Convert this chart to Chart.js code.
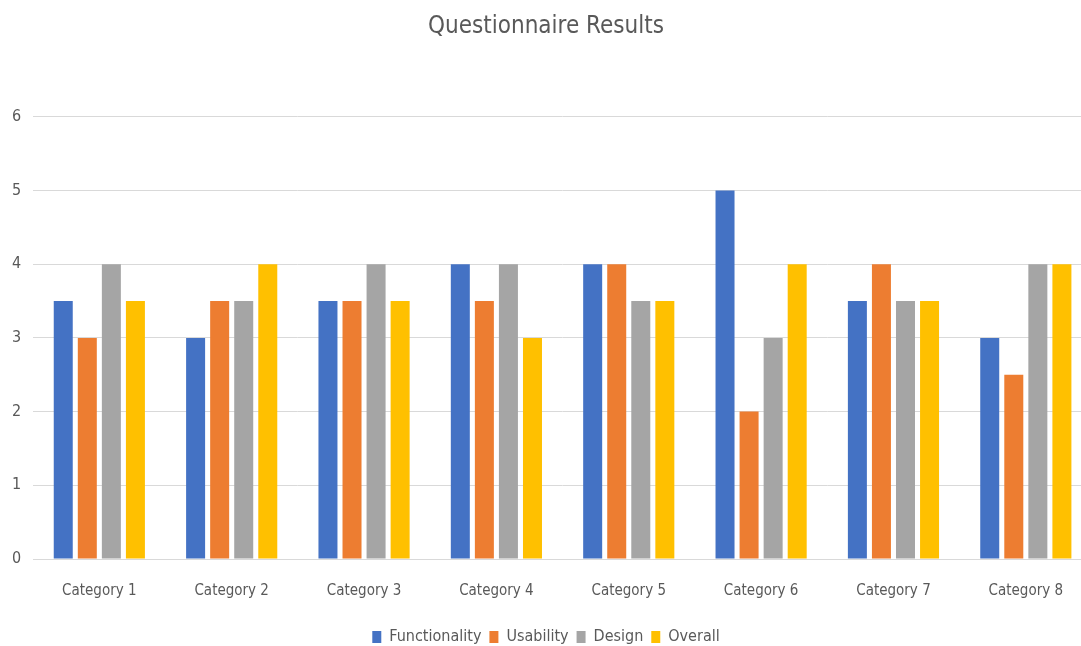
<!DOCTYPE html>
<html><head><meta charset="utf-8">
<script src="https://cdn.jsdelivr.net/npm/chart.js@4"></script>
<style>html,body{margin:0;padding:0;background:#fff;overflow:hidden}#wrap{width:1092px;height:646px}</style>
</head><body><div id="wrap"><canvas id="c"></canvas></div>
<script>
const categories = ["Category 1","Category 2","Category 3","Category 4","Category 5","Category 6","Category 7","Category 8"];
const functionality = [3.5,3,3.5,4,4,5,3.5,3];
const usability = [3,3.5,3.5,3.5,4,2,4,2.5];
const design = [4,3.5,4,4,3.5,3,3.5,4];
const overall = [3.5,4,3.5,3,3.5,4,3.5,4];
const yTicks = [0,1,2,3,4,5,6];
const font = "'Liberation Sans Narrow', 'DejaVu Sans Condensed', sans-serif";
const LEGEND_FIT = -3;
const LEGEND_SHIFT = 6;
const legendGap = {
  id: 'legendGap',
  beforeInit(chart) {
    const lg = chart.legend;
    const fit = lg.fit;
    lg.fit = function() { fit.call(this); this.height += LEGEND_FIT; };
    const draw = lg.draw;
    lg.draw = function() { const ctx = this.ctx; ctx.save(); ctx.translate(0, LEGEND_SHIFT); draw.call(this); ctx.restore(); };
  }
};
new Chart(document.getElementById('c'), {
  type: 'bar',
  data: {
    labels: categories,
    datasets: [
      {label:'Functionality', data: functionality, backgroundColor:'#4472C4'},
      {label:'Usability', data: usability, backgroundColor:'#ED7D31'},
      {label:'Design', data: design, backgroundColor:'#A5A5A5'},
      {label:'Overall', data: overall, backgroundColor:'#FFC000'}
    ]
  },
  options: {
    responsive: true, maintainAspectRatio: false, animation: false,
    categoryPercentage: 0.727, barPercentage: 0.79,
    layout: {padding: {left: 0, right: 0, top: 12, bottom: 0}},
    plugins: {
      title: {display: true, text: 'Questionnaire Results', color: '#595959', font: {family: font, size: 24, weight: 'normal'}, padding: {top: 0, bottom: 76}},
      legend: {position: 'bottom', labels: {boxWidth: 9, boxHeight: 12, color: '#595959', font: {family: font, size: 16}, padding: 8}},
      tooltip: {enabled: false}
    },
    scales: {
      x: {grid: {display: false}, border: {color: '#D9D9D9'}, ticks: {color: '#595959', font: {family: font, size: 15}, padding: 15}},
      y: {min: 0, max: 6, afterBuildTicks: a => { a.ticks = yTicks.map(v => ({value: v})); },
          grid: {color: '#D9D9D9', drawTicks: false}, border: {display: false},
          ticks: {color: '#595959', font: {family: font, size: 16}, padding: 12}}
    }
  },
  plugins: [legendGap]
});
</script></body></html>
